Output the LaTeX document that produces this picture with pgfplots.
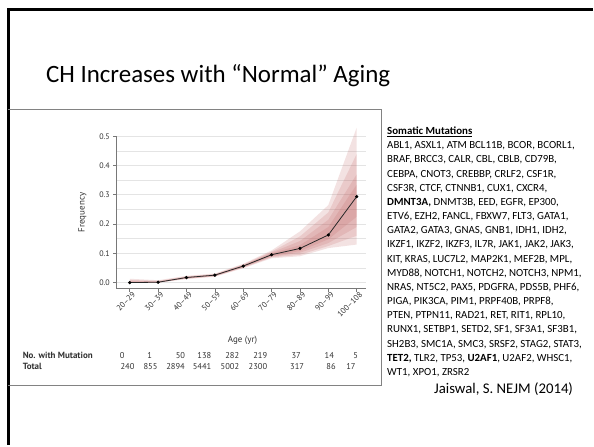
\documentclass[border=0pt]{standalone}
\usepackage{fontspec}
\setmainfont{Carlito}
\newfontfamily\chartfont{PT Sans}
\usepackage{pgfplots}
\pgfplotsset{compat=1.18}
\usepackage{pgfplotstable}
\usepgfplotslibrary{fillbetween}

\definecolor{bandred}{RGB}{190,95,95}
\definecolor{gridgray}{RGB}{228,228,228}
\definecolor{axisgray}{RGB}{120,120,120}
\definecolor{labelgray}{RGB}{50,50,50}
\definecolor{boxgray}{RGB}{130,130,130}
\definecolor{linedark}{RGB}{40,40,40}

% frequency by age group, with four nested credible bands (a = outer ... d = inner)
\pgfplotstableread{
x p      alo   ahi   blo   bhi   clo   chi   dlo   dhi
0 0      0     0.013 0     0.009 0     0.006 0     0.003
1 0.0012 0     0.008 0     0.006 0     0.004 0     0.003
2 0.0173 0.012 0.023 0.013 0.021 0.014 0.020 0.015 0.019
3 0.0254 0.020 0.031 0.021 0.029 0.022 0.028 0.023 0.027
4 0.0564 0.049 0.064 0.051 0.062 0.052 0.060 0.053 0.059
5 0.0952 0.083 0.110 0.086 0.106 0.088 0.103 0.090 0.100
6 0.1167 0.090 0.175 0.095 0.158 0.102 0.142 0.108 0.128
7 0.1628 0.118 0.265 0.125 0.240 0.135 0.215 0.148 0.190
8 0.2941 0.130 0.530 0.160 0.440 0.190 0.370 0.225 0.335
}\chdata

\begin{document}
\begin{tikzpicture}
\begin{scope}[x=1pt,y=1pt]
\path (0,0) rectangle (594,446);
% slide frame
\draw[line width=3pt] (8.3,0) -- (8.3,436) -- (594,436);
% figure box
\draw[boxgray, line width=0.8pt] (8.3,336) -- (382.7,336) -- (382.7,60) -- (8.3,60);
\node[anchor=base west, inner sep=0, font=\fontsize{25}{30}\selectfont] at (46,363.3) {CH Increases with “Normal” Aging};
\end{scope}

\begin{axis}[
  at={(117pt,156.7pt)}, anchor=south west,
  scale only axis, width=249.7pt, height=152.6pt,
  xmin=-0.46, xmax=8.32, ymin=-0.0205, ymax=0.5,
  clip=false,
  axis x line*=bottom, axis y line*=left,
  axis line style={axisgray, line width=0.7pt},
  tick align=outside,
  major tick length=3.5pt,
  tick style={axisgray, line width=0.7pt},
  xtick={0,1,2,3,4,5,6,7,8},
  xticklabels={20–29,30–39,40–49,50–59,60–69,70–79,80–89,90–99,100–108},
  xticklabel style={rotate=45, anchor=north east, inner sep=1pt, xshift=3pt},
  ytick={0,0.1,0.2,0.3,0.4,0.5},
  minor ytick={0.05,0.15,0.25,0.35,0.45},
  minor tick length=0pt,
  ymajorgrids, yminorgrids,
  major grid style={gridgray, line width=0.7pt},
  minor grid style={gridgray, line width=0.7pt},
  yticklabel style={/pgf/number format/.cd, fixed, fixed zerofill, precision=1},
  /pgf/number format/assume math mode=true,
  tick label style={font=\chartfont\fontsize{8}{9}\selectfont, color=labelgray},
  xlabel={Age (yr)},
  xlabel style={at={(axis description cs:0.505,-0.343)}, anchor=center,
    font=\chartfont\fontsize{9}{10}\selectfont, color=labelgray},
  ylabel={Frequency},
  ylabel style={at={(axis description cs:-0.138,0.5)}, anchor=center,
    font=\chartfont\fontsize{9}{10}\selectfont, color=labelgray},
]
\addplot[draw=none, name path=alo, forget plot] table[x=x, y=alo] {\chdata};
\addplot[draw=none, name path=ahi, forget plot] table[x=x, y=ahi] {\chdata};
\addplot[draw=none, name path=blo, forget plot] table[x=x, y=blo] {\chdata};
\addplot[draw=none, name path=bhi, forget plot] table[x=x, y=bhi] {\chdata};
\addplot[draw=none, name path=clo, forget plot] table[x=x, y=clo] {\chdata};
\addplot[draw=none, name path=chi, forget plot] table[x=x, y=chi] {\chdata};
\addplot[draw=none, name path=dlo, forget plot] table[x=x, y=dlo] {\chdata};
\addplot[draw=none, name path=dhi, forget plot] table[x=x, y=dhi] {\chdata};
\addplot[fill=bandred, fill opacity=0.18, draw=none] fill between[of=ahi and alo];
\addplot[fill=bandred, fill opacity=0.18, draw=none] fill between[of=bhi and blo];
\addplot[fill=bandred, fill opacity=0.18, draw=none] fill between[of=chi and clo];
\addplot[fill=bandred, fill opacity=0.18, draw=none] fill between[of=dhi and dlo];
\addplot[linedark, line width=0.8pt, mark=*, mark size=1.2pt, mark options={fill=black, draw=black}]
  table[x=x, y=p] {\chdata};
\end{axis}

\begin{scope}[x=1pt,y=1pt]
% counts below the axis
\begin{scope}[every node/.style={inner sep=0, font=\chartfont\fontsize{8.5}{10}\selectfont, color=labelgray}]
\node[anchor=base west, font=\chartfont\bfseries\fontsize{9}{10}\selectfont] at (22.7,86.7) {No. with Mutation};
\node[anchor=base west, font=\chartfont\bfseries\fontsize{9}{10}\selectfont] at (22.7,75.3) {Total};
\foreach \xx/\vv in {125/0,152.7/1,185.7/50,212/138,240/282,268/219,301.7/37,335/14,359/5}
  \node[anchor=base east] at (\xx,86.7) {\vv};
\foreach \xx/\vv in {135/240,158/855,185.5/2894,212/5441,240/5002,268/2300,305/317,336.7/86,356.7/17}
  \node[anchor=base east] at (\xx,75.3) {\vv};
\end{scope}

% gene list
\begin{scope}[every node/.style={anchor=base west, inner sep=0, font=\fontsize{10.9}{12}\selectfont}]
\node at (388,311.0) {\textbf{\underline{Somatic Mutations}}};
\node at (388,296.8) {ABL1, ASXL1, ATM BCL11B, BCOR, BCORL1,};
\node at (388,282.6) {BRAF, BRCC3, CALR, CBL, CBLB, CD79B,};
\node at (388,268.4) {CEBPA, CNOT3, CREBBP, CRLF2, CSF1R,};
\node at (388,254.2) {CSF3R, CTCF, CTNNB1, CUX1, CXCR4,};
\node at (388,240.0) {\textbf{DMNT3A,} DNMT3B, EED, EGFR, EP300,};
\node at (388,225.8) {ETV6, EZH2, FANCL, FBXW7, FLT3, GATA1,};
\node at (388,211.6) {GATA2, GATA3, GNAS, GNB1, IDH1, IDH2,};
\node at (388,197.4) {IKZF1, IKZF2, IKZF3, IL7R, JAK1, JAK2, JAK3,};
\node at (388,183.2) {KIT, KRAS, LUC7L2, MAP2K1, MEF2B, MPL,};
\node at (388,169.0) {MYD88, NOTCH1, NOTCH2, NOTCH3, NPM1,};
\node at (388,154.8) {NRAS, NT5C2, PAX5, PDGFRA, PDS5B, PHF6,};
\node at (388,140.6) {PIGA, PIK3CA, PIM1, PRPF40B, PRPF8,};
\node at (388,126.4) {PTEN, PTPN11, RAD21, RET, RIT1, RPL10,};
\node at (388,112.2) {RUNX1, SETBP1, SETD2, SF1, SF3A1, SF3B1,};
\node at (388,98.0) {SH2B3, SMC1A, SMC3, SRSF2, STAG2, STAT3,};
\node at (388,83.8) {\textbf{TET2,} TLR2, TP53, \textbf{U2AF1}, U2AF2, WHSC1,};
\node at (388,69.6) {WT1, XPO1, ZRSR2};
\end{scope}

\node[anchor=base west, inner sep=0, font=\fontsize{14.8}{17}\selectfont] at (435,52) {Jaiswal, S. NEJM (2014)};
\end{scope}
\end{tikzpicture}
\end{document}
